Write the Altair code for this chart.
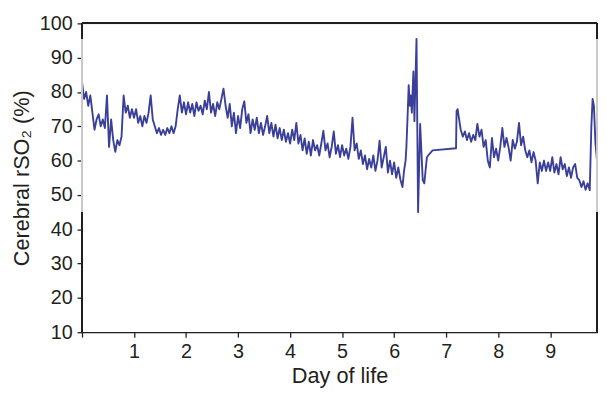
import altair as alt
import pandas as pd

# ---- data (cerebral rSO2, %) ----
# segment A: sampled every 0.04 day from day 0.00 to 6.16
rso2_a = [
    83, 78, 80, 76, 79, 74, 69, 72, 73.5, 70, 72, 69.5, 79, 64, 72, 66, 62.6, 66, 64.5, 67, 79, 74, 76, 72.5, 75,
    72.5, 75, 71, 73, 70, 73, 71, 74, 79, 72, 70, 68, 69.5, 67.5, 69, 67.5, 69.5, 68, 70, 68, 70, 75, 79, 74, 77,
    73.5, 77, 74, 76.5, 73, 77, 74.5, 76, 73.5, 77.5, 75, 80, 74, 76.5, 73, 77, 75, 78, 81, 76, 72.5, 76.5, 70, 74, 68,
    73, 69.5, 75, 77.3, 71, 73.5, 68, 72, 69, 72.5, 68, 71, 67.5, 70, 73, 68, 71, 67, 70.5, 66.5, 69.5, 66, 69, 65.5, 68,
    65, 69, 66, 71, 65, 67.5, 63, 66.5, 62, 65.5, 61.5, 66, 63, 64.5, 61.5, 65, 68.7, 63, 65, 61, 64, 68.5, 62, 64.5, 61,
    64.5, 61.5, 63.5, 60.5, 64, 72.5, 63, 65, 60.5, 63, 59, 61.5, 57.5, 60.5, 58, 61.5, 57, 60, 65.8, 58, 61, 64, 56.5, 60, 56,
    59.5, 55, 58, 54.5, 52.3,
]
day_a = [round(0.04 * i, 2) for i in range(len(rso2_a))]

# segment B: the unstable period around day 6.2 - 7.2
day_b = [6.19, 6.22, 6.235, 6.26, 6.28, 6.30, 6.32, 6.34, 6.37, 6.39, 6.43, 6.46, 6.50,
         6.55, 6.58, 6.61, 6.63, 6.68, 6.74, 7.19, 7.20, 7.22]
rso2_b = [57, 60, 63.8, 73.5, 82, 76, 79, 74, 86, 71.5, 95.5, 45, 70.7,
          54.3, 53.4, 58, 61, 62, 63, 63.6, 74.4, 75]

# segment C: sampled every 0.04 day from day 7.24 to 9.76
rso2_c = [
    73, 69, 67, 68.5, 66, 68, 65.5, 67.5, 66, 70.7, 67, 69, 64, 66, 60, 58, 66.6, 61, 63.5, 60,
    64, 69.5, 64, 66.6, 63.8, 60, 66, 63.5, 65.5, 71, 64.5, 67, 63, 61, 63, 59.5, 62.5, 60, 53.4, 59.5,
    57, 60, 57, 59.5, 57, 61, 56.5, 59, 56, 61, 57.5, 59, 55.5, 58, 55, 58, 59, 55, 54.3, 52.3,
    54, 51.5, 53.4, 51.4,
]
day_c = [round(7.24 + 0.04 * i, 2) for i in range(len(rso2_c))]

# segment D: final rise
day_d = [9.79, 9.815, 9.84, 9.87, 9.9]
rso2_d = [69.5, 78, 76, 65, 60]

x_ticks = [0, 1, 2, 3, 4, 5, 6, 7, 8, 9]
y_ticks = [10, 20, 30, 40, 50, 60, 70, 80, 90, 100]

df = pd.DataFrame({
    "day": day_a + day_b + day_c + day_d,
    "rso2": rso2_a + rso2_b + rso2_c + rso2_d,
})

FONT = "Liberation Sans"
INK = "#231f20"
LINE = "#3a3f98"
X_MAX = 9.9

xscale = alt.Scale(domain=[0, X_MAX], nice=False, zero=False)
yscale = alt.Scale(domain=[10, 100], nice=False, zero=False)

xaxis = alt.Axis(values=x_ticks, labelExpr="datum.value == 0 ? '' : datum.label",
                 title="Day of life", grid=False, tickSize=5, labelPadding=5,
                 titlePadding=4, domainColor=INK, tickColor=INK, domainWidth=1.3,
                 tickWidth=1.3, labelColor=INK, titleColor=INK, labelFontSize=20,
                 titleFontSize=22, titleFontWeight="normal", labelFont=FONT,
                 titleFont=FONT, labelOverlap=False, labelFlush=False)
yaxis = alt.Axis(values=y_ticks, title="Cerebral rSO₂ (%)", grid=False,
                 domain=False, tickSize=5, labelPadding=5, titlePadding=6,
                 tickColor=INK, tickWidth=1.3, labelColor=INK, titleColor=INK,
                 labelFontSize=20, titleFontSize=22, titleFontWeight="normal",
                 labelFont=FONT, titleFont=FONT, labelOverlap=False,
                 labelFlush=False)

line = alt.Chart(df).mark_line(color=LINE, strokeWidth=1.9, strokeJoin="round").encode(
    x=alt.X("day:Q", scale=xscale, axis=xaxis),
    y=alt.Y("rso2:Q", scale=yscale, axis=yaxis),
)

def vseg(xv, y0, y1, color):
    return alt.Chart(df).mark_rule(color=color, strokeWidth=1.3).encode(
        x=alt.XDatum(xv, scale=xscale, axis=xaxis),
        y=alt.YDatum(y0, scale=yscale, axis=yaxis),
        y2=alt.Y2Datum(y1),
    )

top = alt.Chart(df).mark_rule(color=INK, strokeWidth=1.3).encode(
    x=alt.XDatum(0, scale=xscale, axis=xaxis),
    x2=alt.X2Datum(X_MAX),
    y=alt.YDatum(100, scale=yscale, axis=yaxis),
)

GRAY = "#c9c9c9"
frame = [
    vseg(0, 10, 45, INK), vseg(0, 45, 95.5, GRAY), vseg(0, 95.5, 100, INK),
    vseg(X_MAX, 10, 45, INK), vseg(X_MAX, 45, 95.5, GRAY), vseg(X_MAX, 95.5, 100, INK),
    top,
]

chart = alt.layer(line, *frame).properties(
    width=522, height=313,
    autosize=alt.AutoSizeParams(type="none"),
    padding={"left": 75, "top": 13, "right": 2, "bottom": 58},
).configure_view(stroke=None).configure(background="white")

chart.save("out.html", embed_options={"renderer": "svg", "actions": False})
